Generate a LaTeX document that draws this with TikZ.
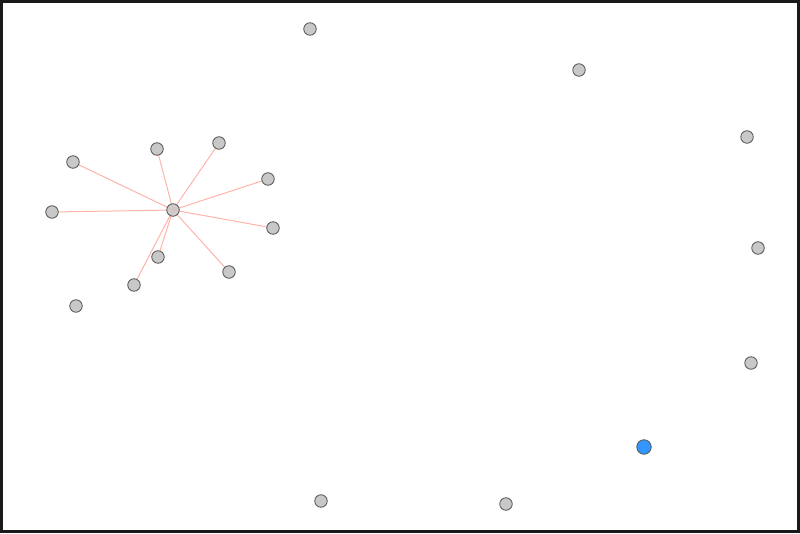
\documentclass[tikz,border=0pt]{standalone}
\definecolor{linkc}{RGB}{255,168,155}
\definecolor{bluec}{RGB}{51,150,255}
\definecolor{grayc}{RGB}{200,200,200}
\definecolor{edgec}{RGB}{85,85,85}
\begin{document}
\begin{tikzpicture}[x=1pt,y=-1pt,
  vnode/.style={circle,draw=edgec,fill=grayc,line width=0.8pt,minimum size=12.5pt,inner sep=0pt},
  bnode/.style={circle,draw=edgec,fill=bluec,line width=0.8pt,minimum size=14.5pt,inner sep=0pt},
  link/.style={draw=linkc,line width=1pt}]
\useasboundingbox (0,0) rectangle (800,534);
\fill[white] (0,0) rectangle (800,534);
\draw[line width=3pt,black!90] (1.5,1.5) rectangle (798.5,531.5);
\coordinate (hc) at (173,210);
\coordinate (c1) at (73,162);
\coordinate (c2) at (157,149);
\coordinate (c3) at (219,143);
\coordinate (c4) at (268,179);
\coordinate (c5) at (52,212);
\coordinate (c6) at (273,228);
\coordinate (c7) at (158,257);
\coordinate (c8) at (229,272);
\coordinate (c9) at (134,285);
\foreach \i in {1,...,9} {\draw[link,opacity=0.85] (hc) -- (c\i);}
\node[vnode,fill opacity=0.85] (h) at (hc) {};
\foreach \i in {1,...,9} {\node[vnode] (n\i) at (c\i) {};}
\node[vnode] (u1) at (76,306) {};
\node[vnode] (u2) at (310,29) {};
\node[vnode] (u3) at (579,70) {};
\node[vnode] (u4) at (747,137) {};
\node[vnode] (u5) at (758,248) {};
\node[vnode] (u6) at (751,363) {};
\node[vnode] (u7) at (321,501) {};
\node[vnode] (u8) at (506,504) {};
\node[bnode] (b) at (644,447) {};
\end{tikzpicture}
\end{document}
